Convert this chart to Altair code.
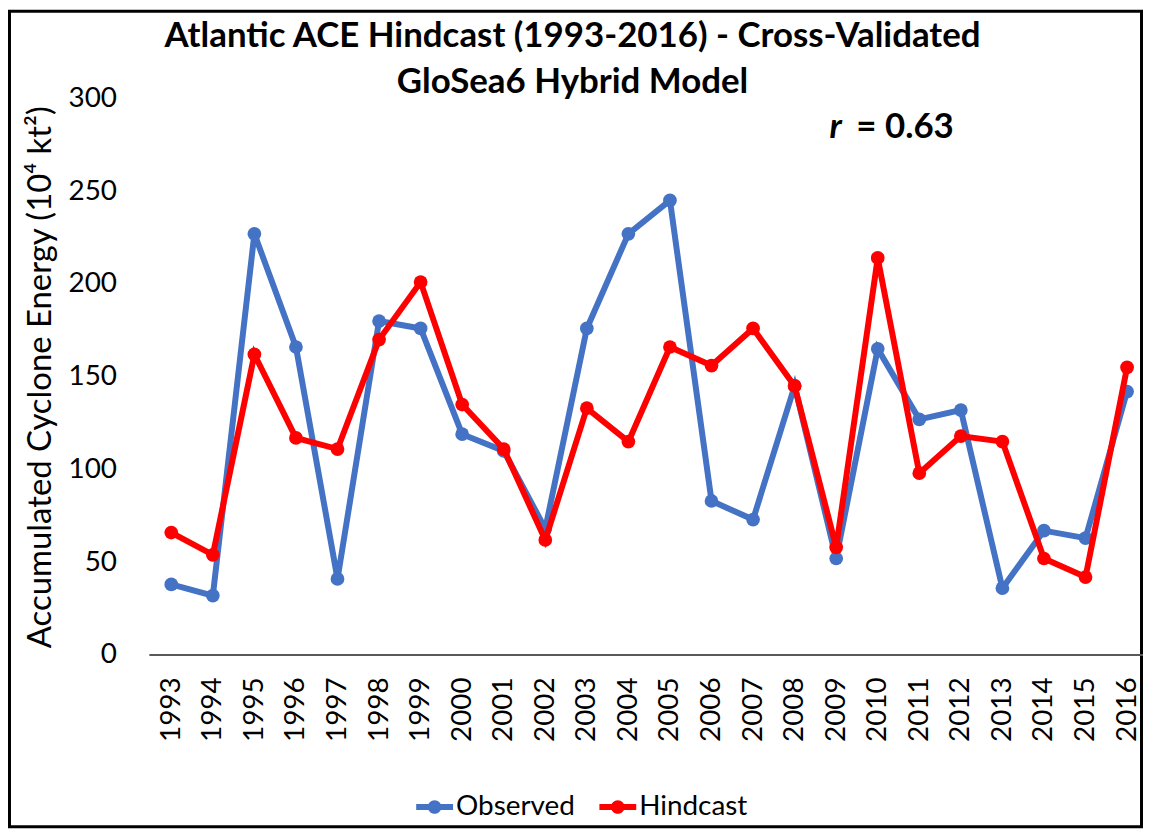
import altair as alt
import pandas as pd

# ---- data ----
years = ["1993", "1994", "1995", "1996", "1997", "1998", "1999", "2000",
         "2001", "2002", "2003", "2004", "2005", "2006", "2007", "2008",
         "2009", "2010", "2011", "2012", "2013", "2014", "2015", "2016"]
observed = [38, 32, 227, 166, 41, 180, 176, 119, 110, 68, 176, 227,
            245, 83, 73, 145, 52, 165, 127, 132, 36, 67, 63, 142]
hindcast = [66, 54, 162, 117, 111, 170, 201, 135, 111, 62, 133, 115,
            166, 156, 176, 145, 58, 214, 98, 118, 115, 52, 42, 155]
series_names = ["Observed", "Hindcast"]
series_colors = ["#4472C4", "#FF0000"]
y_ticks = [0, 50, 100, 150, 200, 250, 300]
title_lines = ["Atlantic ACE Hindcast (1993-2016) - Cross-Validated",
               "GloSea6 Hybrid Model"]
y_title = "Accumulated Cyclone Energy (10\u2074 kt\u00b2)"

FONT = "Lato"
W, H = 997, 559
PAD_L, PAD_T, PAD_B, PAD_R = 143, 89, 174, 0

df = pd.DataFrame({
    "Year": years * 2,
    "Series": [series_names[0]] * len(years) + [series_names[1]] * len(years),
    "ACE": observed + hindcast,
})

xscale = alt.Scale(type="point", range=[21, 981], padding=0)
yscale = alt.Scale(domain=[0, 300], nice=False)

x_enc = alt.X("Year:O", scale=xscale, sort=years,
              axis=alt.Axis(title=None, labelAngle=-90, domain=False, ticks=False,
                            grid=False, labelFont=FONT, labelFontSize=28,
                            labelColor="#000000", labelPadding=22))
y_enc = alt.Y("ACE:Q", scale=yscale,
              axis=alt.Axis(title=y_title, values=y_ticks, grid=False, domain=False,
                            ticks=False, labelFont=FONT, labelFontSize=28,
                            labelColor="#000000", labelPadding=34,
                            titleFont=FONT, titleFontSize=33, titleFontWeight="normal",
                            titleColor="#000000", titleX=-110, titleY=H / 2,
                            titleAngle=270, titleBaseline="middle", titleAlign="center"))

legend_path = ("M-1,-0.16L1,-0.16L1,0.16L-1,0.16Z"
               "M-0.37,0A0.37,0.37 0 1,1 0.37,0A0.37,0.37 0 1,1 -0.37,0Z")

legend = alt.Legend(
    title=None, orient="none", direction="horizontal",
    legendX=267, legendY=693, padding=0,
    symbolType=legend_path, symbolSize=1369, symbolStrokeWidth=0,
    symbolOpacity=1, labelFont=FONT, labelFontSize=28,
    labelColor="#000000", labelOffset=3, columnPadding=24, labelLimit=300,
)

color_enc = alt.Color(
    "Series:N",
    scale=alt.Scale(domain=series_names, range=series_colors),
    legend=legend,
)

base = alt.Chart(df).encode(x=x_enc, y=y_enc, color=color_enc)

layers = []
for name in series_names:
    sub = base.transform_filter(alt.datum.Series == name)
    layers.append(sub.mark_line(strokeWidth=6))
    layers.append(sub.mark_circle(size=190, opacity=1))

one = pd.DataFrame({"k": [0]})

axis_line = alt.Chart(one).mark_rule(color="#595959", strokeWidth=2).encode(
    x=alt.value(-1), x2=alt.value(W), y=alt.value(H))

border = alt.Chart(one).mark_rect(fillOpacity=0, stroke="#000000", strokeWidth=3).encode(
    x=alt.value(-PAD_L + 1.5), x2=alt.value(W - 1.5),
    y=alt.value(-PAD_T + 1.5), y2=alt.value(H + PAD_B - 1.5))

title1 = alt.Chart(one).mark_text(
    text=title_lines[0], font=FONT, fontSize=35, fontWeight="bold", color="#000000",
    align="center", baseline="alphabetic").encode(x=alt.value(424), y=alt.value(-52))
title2 = alt.Chart(one).mark_text(
    text=title_lines[1], font=FONT, fontSize=35, fontWeight="bold", color="#000000",
    align="center", baseline="alphabetic").encode(x=alt.value(424), y=alt.value(-5))

r_sym = alt.Chart(one).mark_text(
    text="r", font=FONT, fontSize=35, fontWeight="bold", fontStyle="italic",
    color="#000000", align="left", baseline="alphabetic").encode(
    x=alt.value(682), y=alt.value(40))
r_val = alt.Chart(one).mark_text(
    text="= 0.63", font=FONT, fontSize=35, fontWeight="bold", color="#000000",
    align="left", baseline="alphabetic").encode(
    x=alt.value(709), y=alt.value(40))

chart = alt.layer(border, axis_line, *layers, title1, title2, r_sym, r_val).properties(
    width=W, height=H,
    autosize=alt.AutoSizeParams(type="none"),
    padding={"left": PAD_L, "top": PAD_T, "right": PAD_R, "bottom": PAD_B},
    background="#ffffff",
).configure_view(stroke=None)

chart.save("out.html", embed_options={"renderer": "svg", "actions": False})
